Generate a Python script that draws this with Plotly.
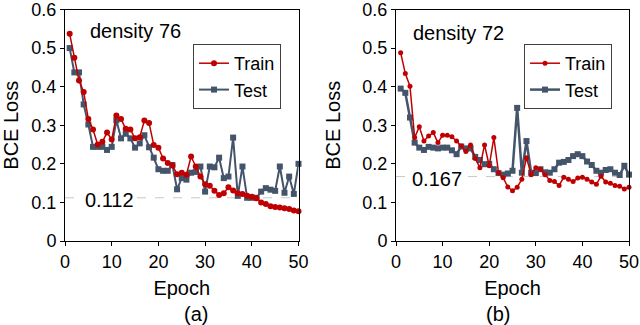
import plotly.graph_objects as go

epochs = list(range(1, 51))

train_a = [0.537, 0.475, 0.416, 0.386, 0.316, 0.289, 0.250, 0.257, 0.281, 0.263,
           0.325, 0.316, 0.291, 0.289, 0.266, 0.269, 0.312, 0.306, 0.249, 0.242,
           0.214, 0.202, 0.196, 0.173, 0.177, 0.172, 0.219, 0.193, 0.167, 0.147,
           0.143, 0.130, 0.119, 0.124, 0.139, 0.131, 0.124, 0.122, 0.117, 0.115,
           0.111, 0.100, 0.096, 0.090, 0.088, 0.087, 0.085, 0.083, 0.079, 0.077]
test_a = [0.500, 0.437, 0.437, 0.354, 0.302, 0.244, 0.244, 0.244, 0.236, 0.244,
          0.313, 0.266, 0.278, 0.266, 0.242, 0.253, 0.274, 0.243, 0.216, 0.186,
          0.182, 0.182, 0.197, 0.134, 0.163, 0.159, 0.177, 0.179, 0.193, 0.128,
          0.193, 0.191, 0.216, 0.163, 0.167, 0.268, 0.117, 0.193, 0.112, 0.112,
          0.112, 0.128, 0.137, 0.133, 0.130, 0.193, 0.125, 0.167, 0.122, 0.200]

train_b = [0.488, 0.434, 0.401, 0.268, 0.296, 0.259, 0.272, 0.281, 0.255, 0.274,
           0.274, 0.270, 0.259, 0.246, 0.232, 0.249, 0.214, 0.190, 0.249, 0.195,
           0.268, 0.177, 0.164, 0.140, 0.130, 0.139, 0.160, 0.216, 0.172, 0.190,
           0.186, 0.172, 0.157, 0.154, 0.144, 0.165, 0.160, 0.154, 0.163, 0.165,
           0.160, 0.153, 0.147, 0.168, 0.153, 0.150, 0.144, 0.142, 0.135, 0.139]
test_b = [0.395, 0.384, 0.320, 0.255, 0.242, 0.236, 0.244, 0.242, 0.240, 0.242,
          0.242, 0.235, 0.225, 0.245, 0.240, 0.240, 0.218, 0.210, 0.199, 0.200,
          0.186, 0.176, 0.172, 0.175, 0.182, 0.345, 0.177, 0.259, 0.177, 0.176,
          0.186, 0.178, 0.177, 0.186, 0.203, 0.205, 0.210, 0.220, 0.225, 0.220,
          0.206, 0.197, 0.182, 0.177, 0.184, 0.186, 0.177, 0.171, 0.195, 0.172]

ref_a = 0.112
ref_b = 0.167
x_ticks = [0, 10, 20, 30, 40, 50]
y_ticks = [0, 0.1, 0.2, 0.3, 0.4, 0.5, 0.6]
y_tick_text = ["0", "0.1", "0.2", "0.3", "0.4", "0.5", "0.6"]

RED = "#C00000"
BLUE = "#44546A"
FONT = "Liberation Sans, Arial, sans-serif"

fig = go.Figure()

# reference dashed lines
fig.add_trace(go.Scatter(x=[0, 50], y=[ref_a, ref_a], mode="lines",
                         line=dict(color="#C8C8C8", width=1, dash="dash"),
                         showlegend=False, xaxis="x", yaxis="y", hoverinfo="skip"))
fig.add_trace(go.Scatter(x=[0, 50], y=[ref_b, ref_b], mode="lines",
                         line=dict(color="#C8C8C8", width=1, dash="dash"),
                         showlegend=False, xaxis="x2", yaxis="y2", hoverinfo="skip"))

fig.add_trace(go.Scatter(x=epochs, y=test_a, mode="lines+markers", name="Test",
                         line=dict(color=BLUE, width=2),
                         marker=dict(symbol="square", size=6, color=BLUE),
                         xaxis="x", yaxis="y", legend="legend", legendrank=2, cliponaxis=False))
fig.add_trace(go.Scatter(x=epochs, y=train_a, mode="lines+markers", name="Train",
                         line=dict(color=RED, width=1.5),
                         marker=dict(symbol="circle", size=6, color=RED),
                         xaxis="x", yaxis="y", legend="legend", legendrank=1, cliponaxis=False))
fig.add_trace(go.Scatter(x=epochs, y=test_b, mode="lines+markers", name="Test",
                         line=dict(color=BLUE, width=2.5),
                         marker=dict(symbol="square", size=6, color=BLUE),
                         xaxis="x2", yaxis="y2", legend="legend2", legendrank=2, cliponaxis=False))
fig.add_trace(go.Scatter(x=epochs, y=train_b, mode="lines+markers", name="Train",
                         line=dict(color=RED, width=1.5),
                         marker=dict(symbol="circle", size=5, color=RED),
                         xaxis="x2", yaxis="y2", legend="legend2", legendrank=1, cliponaxis=False))

x0a, x1a = 65 / 640, 298.5 / 640
x0b, x1b = 396 / 640, 629 / 640
y0, y1 = 1 - 241 / 325, 1 - 9.5 / 325

axis_common = dict(showline=True, linecolor="black", linewidth=1, mirror=True,
                   ticks="outside", ticklen=4, tickcolor="black", showgrid=False,
                   zeroline=False, automargin=False, ticklabeloverflow="allow",
                   tickfont=dict(family=FONT, size=18, color="black"))

fig.update_layout(
    width=640, height=325,
    margin=dict(l=0, r=0, t=0, b=0),
    paper_bgcolor="white", plot_bgcolor="white",
    font=dict(family=FONT, size=20, color="black"),
    xaxis=dict(domain=[x0a, x1a], range=[0, 50], tickvals=x_ticks, anchor="y",
               title=dict(text="Epoch", font=dict(size=20), standoff=10), **axis_common),
    yaxis=dict(domain=[y0, y1], range=[0, 0.6], tickvals=y_ticks, ticktext=y_tick_text,
               anchor="x", title=dict(text="BCE Loss", font=dict(size=20), standoff=16),
               **axis_common),
    xaxis2=dict(domain=[x0b, x1b], range=[0, 50], tickvals=x_ticks, anchor="y2",
                title=dict(text="Epoch", font=dict(size=20), standoff=10), **axis_common),
    yaxis2=dict(domain=[y0, y1], range=[0, 0.6], tickvals=y_ticks, ticktext=y_tick_text,
                anchor="x2", title=dict(text="BCE Loss", font=dict(size=20), standoff=16),
                **axis_common),
    legend=dict(x=193 / 640, y=1 - 44 / 325, xanchor="left", yanchor="top",
                bordercolor="#404040", borderwidth=1, bgcolor="white",
                font=dict(size=18), tracegroupgap=0, itemwidth=30),
    legend2=dict(x=524 / 640, y=1 - 44 / 325, xanchor="left", yanchor="top",
                 bordercolor="#404040", borderwidth=1, bgcolor="white",
                 font=dict(size=18), tracegroupgap=0, itemwidth=30),
    annotations=[
        dict(text="density 76", x=4.9, y=0.545, xref="x", yref="y", showarrow=False,
             xanchor="left", yanchor="middle", font=dict(size=20)),
        dict(text="density 72", x=3.2, y=0.54, xref="x2", yref="y2", showarrow=False,
             xanchor="left", yanchor="middle", font=dict(size=20)),
        dict(text="0.112", x=3.8, y=ref_a, xref="x", yref="y", showarrow=False, yshift=-2,
             xanchor="left", yanchor="middle", bgcolor="white", font=dict(size=20)),
        dict(text="0.167", x=2.9, y=ref_b, xref="x2", yref="y2", showarrow=False, yshift=-2,
             xanchor="left", yanchor="middle", bgcolor="white", font=dict(size=20)),
        dict(text="(a)", x=182 / 640, y=1 - 314 / 325, xref="paper", yref="paper",
             showarrow=False, yanchor="middle", font=dict(size=20)),
        dict(text="(b)", x=512 / 640, y=1 - 314 / 325, xref="paper", yref="paper",
             showarrow=False, yanchor="middle", font=dict(size=20)),
    ],
)

fig.write_html("out.html", config={"displayModeBar": False},
               post_script="document.body.style.margin='0';document.body.style.overflow='hidden';")
